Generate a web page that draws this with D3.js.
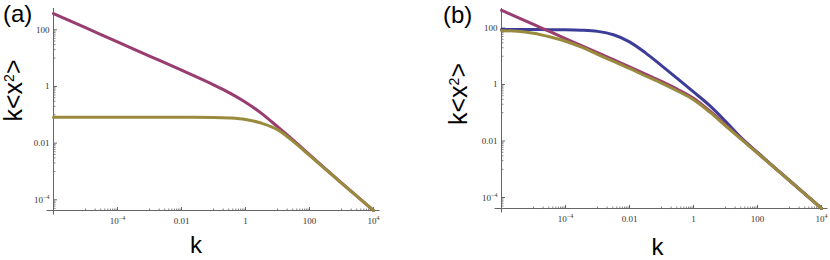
<!DOCTYPE html>
<html><head><meta charset="utf-8">
<script src="https://cdn.jsdelivr.net/npm/d3@7"></script>
<style>body{margin:0;background:#fff}svg{display:block}</style>
</head><body>
<svg id="c" width="830" height="260"></svg>
<script>
// ---------- data ----------
const kA = [1e-6,1e-5,1e-4,1e-3,1e-2,0.1,0.316,1,3.16,10,31.6,100,1000,1e4];
const purpleA = [376,118.9,37.6,11.88,3.745,1.143,0.597,0.279,0.112,0.038,0.0125,0.00395,3.95e-4,4.2e-5];
const yellowA = [0.082,0.082,0.082,0.082,0.0819,0.0805,0.0773,0.0686,0.0506,0.0300,0.0113,0.00368,3.9e-4,4.19e-5];

const kB = [1e-6,3.16e-6,1e-5,3.16e-5,1e-4,3.16e-4,1e-3,3.16e-3,1e-2,3.16e-2,0.1,0.316,1,3.16,10,31.6,100,1000,1e4];
const blueB   = [87.8,87.8,87.7,87.5,87,84,75.9,57.5,32.4,13.2,4.68,1.62,0.55,0.182,0.05,0.0128,0.00395,4.0e-4,4.1e-5];
const purpleB = [423,238,134,75.2,42.3,23.8,13.4,7.52,4.21,2.34,1.29,0.676,0.324,0.1175,0.0372,0.01175,0.0038,3.98e-4,4.1e-5];
const yellowB = [80,77,65.4,49,34,21,11.7,6.6,3.7,2.0,1.12,0.589,0.288,0.107,0.0347,0.01135,0.00372,3.94e-4,4.1e-5];

const xTickVals = [1e-4,1e-2,1,100,1e4];
const xTickLabels = [["10","−4"],["0.01"],["1"],["100"],["10","4"]];
const yTickVals = [1e-4,1e-2,1,100];
const yTickLabels = [["10","−4"],["0.01"],["1"],["100"]];

const COL = {blue:"#3d3d99", purple:"#993d71", yellow:"#998b3d"};

const svg = d3.select("#c");

function panel(o){
  const g = svg.append("g");
  const xs = d3.scaleLog().domain([1e-6,1e4]).range([o.x0, o.x0+320]);
  const ys = d3.scaleLog().domain([Math.pow(10,o.ylo), Math.pow(10,o.yhi)]).range([o.y0, 8.5]);
  // axes
  g.append("line").attr("x1",o.x0-7).attr("x2",o.x0+326).attr("y1",o.y0).attr("y2",o.y0)
    .attr("stroke","#666").attr("stroke-width",1);
  g.append("line").attr("x1",o.x0).attr("x2",o.x0).attr("y1",8).attr("y2",o.y0+4)
    .attr("stroke","#666").attr("stroke-width",1);
  // minor ticks: decade below each major
  const xMinor=[], yMinor=[];
  xTickVals.forEach(v=>{for(let m=1;m<=9;m++){xMinor.push(m*v/10);}});
  yTickVals.forEach(v=>{for(let m=1;m<=9;m++){yMinor.push(m*v/10);}});
  const [ylo,yhi]=ys.domain();
  g.selectAll(".xm").data(xMinor.filter(v=>v>1e-6)).join("line")
    .attr("x1",d=>xs(d)).attr("x2",d=>xs(d)).attr("y1",o.y0).attr("y2",o.y0-2)
    .attr("stroke","#666").attr("stroke-width",0.8);
  g.selectAll(".ym").data(yMinor.filter(v=>v>ylo&&v<yhi)).join("line")
    .attr("x1",o.x0).attr("x2",o.x0+2).attr("y1",d=>ys(d)).attr("y2",d=>ys(d))
    .attr("stroke","#666").attr("stroke-width",0.8);
  g.selectAll(".xM").data(xTickVals).join("line")
    .attr("x1",d=>xs(d)).attr("x2",d=>xs(d)).attr("y1",o.y0).attr("y2",o.y0-3.5)
    .attr("stroke","#666").attr("stroke-width",1);
  g.selectAll(".yM").data(yTickVals).join("line")
    .attr("x1",o.x0).attr("x2",o.x0+3.5).attr("y1",d=>ys(d)).attr("y2",d=>ys(d))
    .attr("stroke","#666").attr("stroke-width",1);
  // tick labels
  const tl = (sel, parts)=>{
    sel.append("tspan").text(parts[0]);
    if(parts.length>1) sel.append("tspan").attr("font-size",6).attr("dy",-4).text(parts[1]);
  };
  xTickVals.forEach((v,i)=>{
    const t=g.append("text").attr("x",xs(v)).attr("y",o.y0+13.5).attr("text-anchor","middle")
      .attr("font-family","Liberation Serif, Times New Roman, serif").attr("font-size",9).attr("fill","#333");
    tl(t,xTickLabels[i]);
  });
  yTickVals.forEach((v,i)=>{
    const t=g.append("text").attr("x",o.x0-4).attr("y",ys(v)+3).attr("text-anchor","end")
      .attr("font-family","Liberation Serif, Times New Roman, serif").attr("font-size",9).attr("fill","#333");
    tl(t,yTickLabels[i]);
  });
  // curves
  const line = d3.line().x(d=>xs(d[0])).y(d=>ys(d[1])).curve(d3.curveMonotoneX);
  o.series.forEach(s=>{
    g.append("path").attr("d",line(s.k.map((k,i)=>[k,s.v[i]])))
      .attr("fill","none").attr("stroke",s.c).attr("stroke-width",3)
      .attr("stroke-linejoin","round").attr("stroke-linecap","round");
  });
  // labels
  const sans="Liberation Sans, Arial, sans-serif";
  g.append("text").attr("x",o.tagX).attr("y",o.tagY).attr("font-family",sans).attr("font-size",24).attr("fill","#000").text(o.tag);
  const yl=g.append("text").attr("transform",`translate(${o.ylX},${o.ylY}) rotate(-90)`)
    .attr("text-anchor","middle").attr("font-family",sans).attr("font-size",25).attr("fill","#000");
  yl.append("tspan").text("k<x");
  yl.append("tspan").attr("font-size",14).attr("dy",-8).text("2");
  yl.append("tspan").attr("dy",8).text(">");
  g.append("text").attr("x",o.xlX).attr("y",o.xlY).attr("text-anchor","middle").attr("font-family",sans)
    .attr("font-size",24).attr("fill","#000").text("k");
}

panel({x0:53.5, y0:210.5, ylo:-4.378, yhi:2.752, tag:"(a)", tagX:3, tagY:21.5,
  ylX:22, ylY:90.5, xlX:196, xlY:253,
  series:[{k:kA,v:purpleA,c:COL.purple},{k:kA,v:yellowA,c:COL.yellow}]});
panel({x0:501.5, y0:208.5, ylo:-4.389, yhi:2.69, tag:"(b)", tagX:443, tagY:23,
  ylX:467, ylY:94, xlX:657.5, xlY:255,
  series:[{k:kB,v:blueB,c:COL.blue},{k:kB,v:purpleB,c:COL.purple},{k:kB,v:yellowB,c:COL.yellow}]});
</script>
</body></html>
